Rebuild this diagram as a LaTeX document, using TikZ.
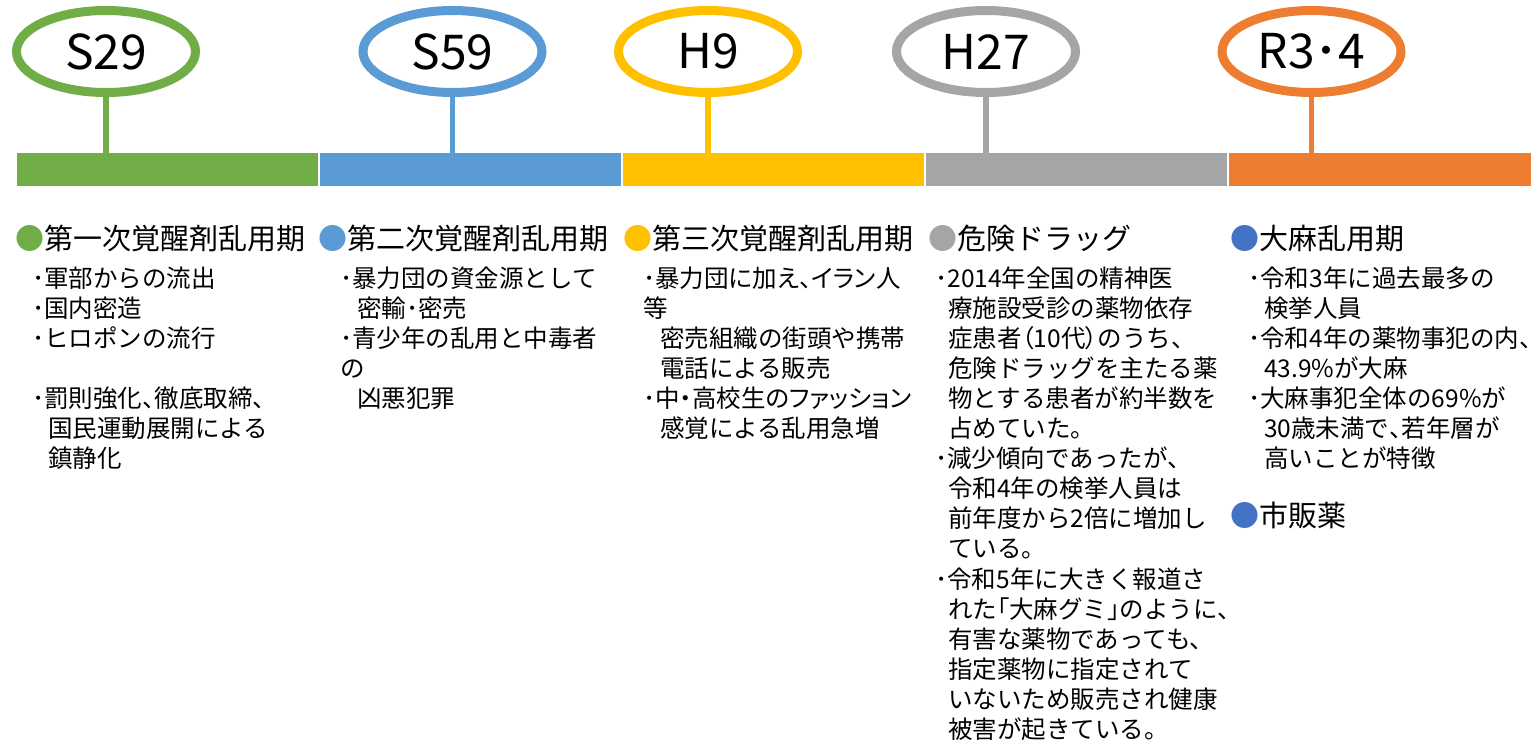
\documentclass[tikz,border=0pt]{standalone}
\usepackage{fontspec}
\setmainfont{Noto Sans CJK JP}
\newfontfamily\paltfont[RawFeature=+palt]{Noto Sans CJK JP}
\usetikzlibrary{shapes.geometric}
\definecolor{cgreen}{HTML}{70AD47}
\definecolor{cblue}{HTML}{5B9BD5}
\definecolor{cyellow}{HTML}{FFC000}
\definecolor{cgray}{HTML}{A5A5A5}
\definecolor{corange}{HTML}{ED7D31}
\definecolor{cdblue}{HTML}{4472C4}
\newcommand\pp[1]{{\paltfont #1}}
\begin{document}
\begin{tikzpicture}[x=1pt,y=-1pt,
  ell/.style={ellipse, draw, line width=9pt, minimum width=179pt, minimum height=82pt, inner sep=0pt, text=black, font=\fontsize{48}{48}\selectfont},
  stem/.style={line width=5.5pt},
  bar/.style={rectangle, inner sep=0pt, minimum height=33pt},
  head/.style={anchor=base west, inner sep=0pt, font=\fontsize{29}{30}\selectfont},
  body/.style={anchor=base west, inner sep=0pt, font=\fontsize{24.5}{30}\selectfont}]
\useasboundingbox (0,0) rectangle (1534,742);
% bars
\node[bar, fill=cgreen,  minimum width=301pt] (b1) at (167.5,169.5) {};
\node[bar, fill=cblue,   minimum width=301pt] (b2) at (470.5,169.5) {};
\node[bar, fill=cyellow, minimum width=301pt] (b3) at (773.5,169.5) {};
\node[bar, fill=cgray,   minimum width=301pt] (b4) at (1076.5,169.5) {};
\node[bar, fill=corange, minimum width=302pt] (b5) at (1380,169.5) {};
% ellipses
\node[ell, draw=cgreen]  (e1) at (106,51.5) {S29};
\node[ell, draw=cblue]   (e2) at (452.5,51.5) {S59};
\node[ell, draw=cyellow] (e3) at (708,51.5) {H9};
\node[ell, draw=cgray]   (e4) at (986,51.5) {H27};
\node[ell, draw=corange] (e5) at (1311.5,51.5) {R3･4};
% stems
\draw[stem, cgreen]  (e1.south) -- (e1.south |- b1.north);
\draw[stem, cblue]   (e2.south) -- (e2.south |- b2.north);
\draw[stem, cyellow] (e3.south) -- (e3.south |- b3.north);
\draw[stem, cgray]   (e4.south) -- (e4.south |- b4.north);
\draw[stem, corange] (e5.south) -- (e5.south |- b5.north);
% headings
\node[head] (h1) at (15,249) {\textcolor{cgreen}{●}第一次覚醒剤乱用期};
\node[head] (h2) at (318,249) {\textcolor{cblue}{●}第二次覚醒剤乱用期};
\node[head] (h3) at (623,249) {\textcolor{cyellow}{●}第三次覚醒剤乱用期};
\node[head] (h4) at (928,249) {\textcolor{cgray}{●}危険ドラッグ};
\node[head] (h5) at (1230,249) {\textcolor{cdblue}{●}大麻乱用期};
\node[head] (h6) at (1230,526) {\textcolor{cdblue}{●}市販薬};
% column 1
\foreach \k/\t in {0/{･軍部からの流出},1/{･国内密造},2/{･ヒロポンの流行},4/{･罰則強化\pp{、}徹底取締\pp{、}},5/{\hspace*{16pt}国民運動展開による},6/{\hspace*{16pt}鎮静化}}
  \node[body] (a\k) at (32,{287.3+30.07*\k}) {\t};
% column 2
\foreach \k/\t in {0/{･暴力団の資金源として},1/{\hspace*{17pt}密輸･密売},2/{･青少年の乱用と中毒者},3/{の},4/{\hspace*{17pt}凶悪犯罪}}
  \node[body] (b\k) at (340,{287.3+30.07*\k}) {\t};
% column 3
\foreach \k/\t in {0/{･\pp{暴力団に加え、イラン人}},1/{等},2/{\hspace*{17pt}密売組織の街頭や携帯},3/{\hspace*{17pt}電話による販売},4/{･\pp{中・高校生のファッション}},5/{\hspace*{17pt}感覚による乱用急増}}
  \node[body] (c\k) at (643,{287.3+30.07*\k}) {\t};
% column 4
\foreach \k/\t in {0/{･2014年全国の精神医},1/{\hspace*{13pt}療施設受診の薬物依存},2/{\hspace*{13pt}症患者\pp{（}10代\pp{）}のうち、},3/{\hspace*{13pt}危険ドラッグを主たる薬},4/{\hspace*{13pt}物とする患者が約半数を},5/{\hspace*{13pt}占めていた。},6/{･減少傾向であったが、},7/{\hspace*{13pt}令和4年の検挙人員は},8/{\hspace*{13pt}前年度から2倍に増加し},9/{\hspace*{13pt}ている。},10/{･令和5年に大きく報道さ},11/{\hspace*{13pt}れた\pp{「}大麻グミ\pp{」}のように、},12/{\hspace*{13pt}有害な薬物であっても、},13/{\hspace*{13pt}指定薬物に指定されて},14/{\hspace*{13pt}いないため販売され健康},15/{\hspace*{13pt}被害が起きている。}}
  \node[body] (d\k) at (935,{287.3+30.07*\k}) {\t};
% column 5
\foreach \k/\t in {0/{･令和3年に過去最多の},1/{\hspace*{16pt}検挙人員},2/{･令和4年の薬物事犯の内、},3/{\hspace*{16pt}43.9\%が大麻},4/{･大麻事犯全体の69\%が},5/{\hspace*{16pt}30歳未満で\pp{、}若年層が},6/{\hspace*{16pt}高いことが特徴}}
  \node[body] (f\k) at (1248,{287.3+30.07*\k}) {\t};
\end{tikzpicture}
\end{document}
